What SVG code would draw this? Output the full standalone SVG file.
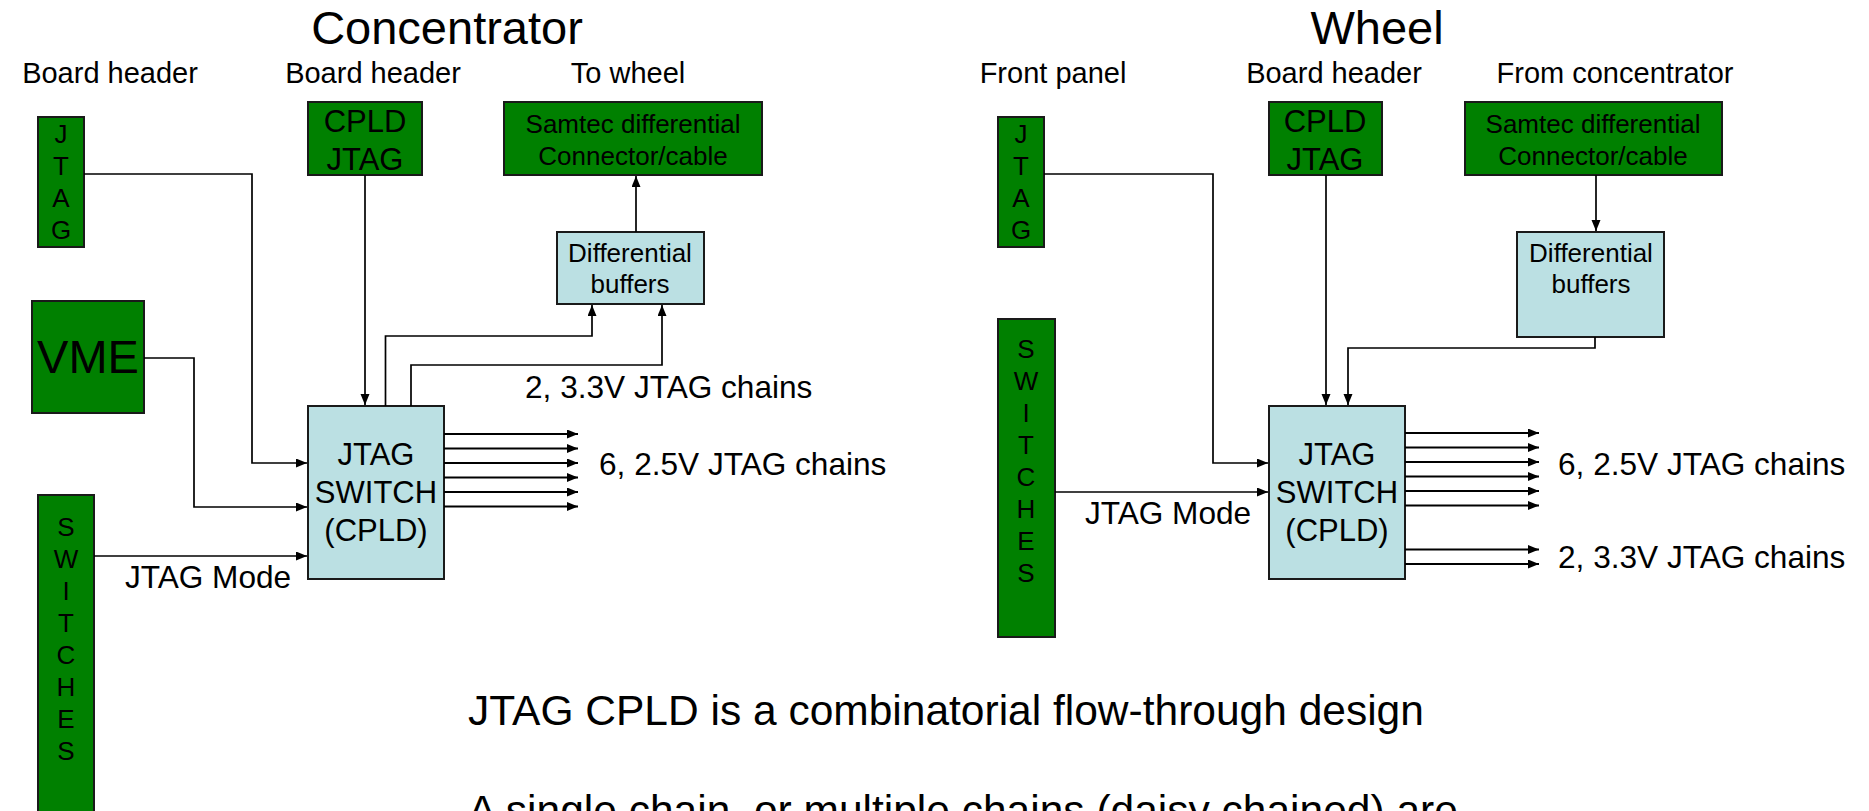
<svg xmlns="http://www.w3.org/2000/svg" width="1869" height="811" viewBox="0 0 1869 811">
<style>
text{font-family:"Liberation Sans",Arial,sans-serif;fill:#000}
.green{fill:#008000;stroke:#1a1a1a;stroke-width:2}
.blue{fill:#BBE0E3;stroke:#1a1a1a;stroke-width:2}
.c{text-anchor:middle}
.title{font-size:47px}
.hdr{font-size:29px}
.lbl{font-size:31px}
.ch{font-size:31.6px}
.sm{font-size:26px}
.vl{font-size:26px;text-anchor:middle}
.big{font-size:42.5px}
.wire{fill:none;stroke:#000;stroke-width:1.7}
.arr{fill:none;stroke:#000;stroke-width:1.7;marker-end:url(#ah)}
.out{fill:none;stroke:#000;stroke-width:2.2;marker-end:url(#ah)}
</style>
<defs>
<marker id="ah" markerUnits="userSpaceOnUse" markerWidth="12" markerHeight="10" refX="11" refY="4.5" orient="auto">
<path d="M0,0 L11,4.5 L0,9 z" fill="#000"/>
</marker>
</defs>
<rect width="1869" height="811" fill="#fff"/>

<g id="titles">
<text class="title c" x="447" y="44">Concentrator</text>
<text class="title c" x="1377" y="44">Wheel</text>
<text class="hdr c" x="110" y="83">Board header</text>
<text class="hdr c" x="373" y="83">Board header</text>
<text class="hdr c" x="628" y="83">To wheel</text>
<text class="hdr c" x="1053" y="83">Front panel</text>
<text class="hdr c" x="1334" y="83">Board header</text>
<text class="hdr c" x="1615" y="83">From concentrator</text>
</g>

<!-- Concentrator nodes -->
<g id="c-jtag">
<rect class="green" x="38" y="117" width="46" height="130"/>
<text class="vl" x="61" y="143">J</text>
<text class="vl" x="61" y="175">T</text>
<text class="vl" x="61" y="207">A</text>
<text class="vl" x="61" y="239">G</text>
</g>
<g id="c-cpld-jtag">
<rect class="green" x="308" y="102" width="114" height="73"/>
<text class="lbl c" x="365" y="132">CPLD</text>
<text class="lbl c" x="365" y="170">JTAG</text>
</g>
<g id="c-samtec">
<rect class="green" x="504" y="102" width="258" height="73"/>
<text class="sm c" x="633" y="133">Samtec differential</text>
<text class="sm c" x="633" y="165">Connector/cable</text>
</g>
<g id="c-buffers">
<rect class="blue" x="557" y="232" width="147" height="72"/>
<text class="sm c" x="630" y="262">Differential</text>
<text class="sm c" x="630" y="293">buffers</text>
</g>
<g id="c-vme">
<rect class="green" x="32" y="301" width="112" height="112"/>
<text class="title c" x="88" y="373">VME</text>
</g>
<g id="c-switches">
<rect class="green" x="38" y="495" width="56" height="330"/>
<text class="vl" x="66" y="536">S</text>
<text class="vl" x="66" y="568">W</text>
<text class="vl" x="66" y="600">I</text>
<text class="vl" x="66" y="632">T</text>
<text class="vl" x="66" y="664">C</text>
<text class="vl" x="66" y="696">H</text>
<text class="vl" x="66" y="728">E</text>
<text class="vl" x="66" y="760">S</text>
</g>
<g id="c-switch">
<rect class="blue" x="308" y="406" width="136" height="173"/>
<text class="lbl c" x="376" y="465">JTAG</text>
<text class="lbl c" x="376" y="503">SWITCH</text>
<text class="lbl c" x="376" y="541">(CPLD)</text>
</g>

<!-- Wheel nodes -->
<g id="w-jtag">
<rect class="green" x="998" y="117" width="46" height="130"/>
<text class="vl" x="1021" y="143">J</text>
<text class="vl" x="1021" y="175">T</text>
<text class="vl" x="1021" y="207">A</text>
<text class="vl" x="1021" y="239">G</text>
</g>
<g id="w-cpld-jtag">
<rect class="green" x="1269" y="102" width="113" height="73"/>
<text class="lbl c" x="1325" y="132">CPLD</text>
<text class="lbl c" x="1325" y="170">JTAG</text>
</g>
<g id="w-samtec">
<rect class="green" x="1465" y="102" width="257" height="73"/>
<text class="sm c" x="1593" y="133">Samtec differential</text>
<text class="sm c" x="1593" y="165">Connector/cable</text>
</g>
<g id="w-buffers">
<rect class="blue" x="1517" y="232" width="147" height="105"/>
<text class="sm c" x="1591" y="262">Differential</text>
<text class="sm c" x="1591" y="293">buffers</text>
</g>
<g id="w-switches">
<rect class="green" x="998" y="319" width="57" height="318"/>
<text class="vl" x="1026" y="358">S</text>
<text class="vl" x="1026" y="390">W</text>
<text class="vl" x="1026" y="422">I</text>
<text class="vl" x="1026" y="454">T</text>
<text class="vl" x="1026" y="486">C</text>
<text class="vl" x="1026" y="518">H</text>
<text class="vl" x="1026" y="550">E</text>
<text class="vl" x="1026" y="582">S</text>
</g>
<g id="w-switch">
<rect class="blue" x="1269" y="406" width="136" height="173"/>
<text class="lbl c" x="1337" y="465">JTAG</text>
<text class="lbl c" x="1337" y="503">SWITCH</text>
<text class="lbl c" x="1337" y="541">(CPLD)</text>
</g>

<g id="connectors">
<!-- Concentrator -->
<path class="arr" d="M84,174 H252 V463 H307"/>
<path class="arr" d="M365,175 V405"/>
<path class="arr" d="M144,358 H194 V507 H307"/>
<path class="arr" d="M94,556 H307"/>
<path class="arr" d="M385.5,406 V336 H592 V305"/>
<path class="arr" d="M411,406 V365 H662 V305"/>
<path class="arr" d="M636,232 V176"/>
<path class="out" d="M444,434 H578"/>
<path class="out" d="M444,448.5 H578"/>
<path class="out" d="M444,463 H578"/>
<path class="out" d="M444,477.5 H578"/>
<path class="out" d="M444,492 H578"/>
<path class="out" d="M444,506.5 H578"/>
<!-- Wheel -->
<path class="arr" d="M1044,174 H1213 V463 H1268"/>
<path class="arr" d="M1055,492 H1268"/>
<path class="arr" d="M1326,175 V405"/>
<path class="arr" d="M1596,175 V231"/>
<path class="arr" d="M1595,337 V348 H1348 V405"/>
<path class="out" d="M1405,433 H1539"/>
<path class="out" d="M1405,447.5 H1539"/>
<path class="out" d="M1405,462 H1539"/>
<path class="out" d="M1405,476.5 H1539"/>
<path class="out" d="M1405,491 H1539"/>
<path class="out" d="M1405,505.5 H1539"/>
<path class="out" d="M1405,549.5 H1539"/>
<path class="out" d="M1405,564 H1539"/>
</g>

<g id="labels">
<text class="ch" x="525" y="398">2, 3.3V JTAG chains</text>
<text class="ch" x="599" y="475">6, 2.5V JTAG chains</text>
<text class="ch c" x="208" y="588">JTAG Mode</text>
<text class="ch c" x="1168" y="524">JTAG Mode</text>
<text class="ch" x="1558" y="475">6, 2.5V JTAG chains</text>
<text class="ch" x="1558" y="568">2, 3.3V JTAG chains</text>
<text class="big" x="468" y="725">JTAG CPLD is a combinatorial flow-through design</text>
<text class="big" x="468" y="825">A single chain, or multiple chains (daisy chained) are</text>
</g>
</svg>
